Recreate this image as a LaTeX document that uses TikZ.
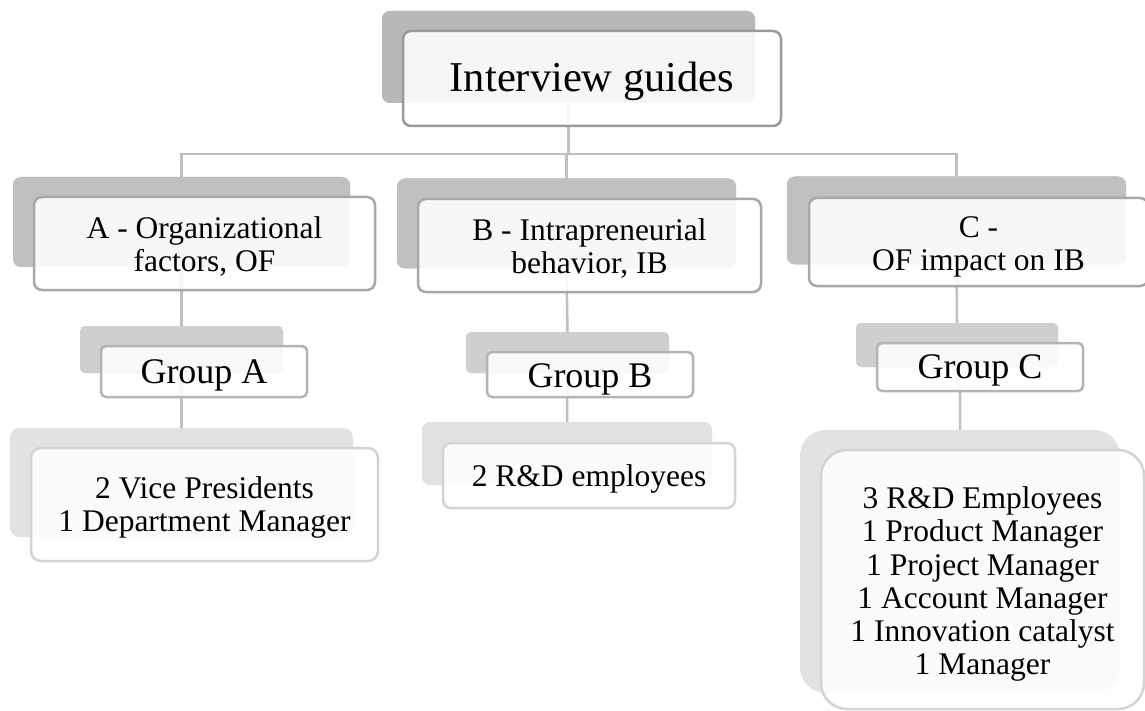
\documentclass[tikz,border=0pt]{standalone}
\usepackage{fontspec}
\setmainfont{Liberation Serif}
\definecolor{shT}{HTML}{B8B8B8}
\definecolor{shL}{HTML}{C0C0C0}
\definecolor{shG}{HTML}{CFCFCF}
\definecolor{shB}{HTML}{E2E2E2}
\definecolor{bdT}{HTML}{9A9A9A}
\definecolor{bdL}{HTML}{A8A8A8}
\definecolor{bdG}{HTML}{B4B4B4}
\definecolor{bdB}{HTML}{D4D4D4}
\definecolor{lineC}{HTML}{C0C0C0}
\newcommand{\up}[1]{\rule{0pt}{#1pt}}
\tikzset{
  shadowbox/.style={rectangle, rounded corners=8pt, draw=none, inner sep=0pt, outer sep=0pt},
  frontbox/.style={rectangle, rounded corners=8pt, fill=white, fill opacity=0.88, text opacity=1,
                   line width=2.5pt, inner sep=0pt, align=center, text=black},
  conn/.style={draw=lineC, line width=2.5pt},
  fTop/.style={font=\fontsize{42.5}{46}\selectfont},
  fLev/.style={font=\fontsize{31.5}{33}\selectfont},
  fGrp/.style={font=\fontsize{36}{38}\selectfont},
  fBot/.style={font=\fontsize{31.5}{33.2}\selectfont}
}
\begin{document}
\begin{tikzpicture}[x=1pt,y=-1pt]
\useasboundingbox (0,0) rectangle (1145,711);
\clip (0,0) rectangle (1145,711);

% shadow (main) nodes
\node[shadowbox, fill=shT, minimum width=373pt, minimum height=92pt] (T) at (568.5,57) {};
\node[shadowbox, fill=shL, minimum width=337pt, minimum height=90pt] (A) at (181.5,222) {};
\node[shadowbox, fill=shL, minimum width=339pt, minimum height=90pt] (B) at (566.5,223.5) {};
\node[shadowbox, fill=shL, minimum width=339pt, minimum height=88pt] (C) at (956.5,220.5) {};
\node[shadowbox, fill=shG, rounded corners=5pt, minimum width=203pt, minimum height=47pt] (GA) at (181.5,349.5) {};
\node[shadowbox, fill=shG, rounded corners=5pt, minimum width=203pt, minimum height=41pt] (GB) at (567.5,352.5) {};
\node[shadowbox, fill=shG, rounded corners=5pt, minimum width=202pt, minimum height=44pt] (GC) at (957,345) {};
\node[shadowbox, fill=shB, rounded corners=10pt, minimum width=343pt, minimum height=109pt] (LA) at (181.5,482.5) {};
\node[shadowbox, fill=shB, rounded corners=8pt, minimum width=290pt, minimum height=63pt] (LB) at (567,453.5) {};
\node[shadowbox, fill=shB, rounded corners=26pt, minimum width=320pt, minimum height=263pt] (LC) at (960,561.5) {};

% connectors
\path (T.south) ++(0,51) coordinate (bus);
\draw[conn] (T.south) -- (bus);
\draw[conn] (bus) -| (A.north);
\draw[conn] (bus) -| (B.north);
\draw[conn] (bus) -| (C.north);
\draw[conn] (A.south) -- (GA.north);
\draw[conn] (B.south) -- (GB.north);
\draw[conn] (C.south) -- (GC.north);
\draw[conn] (GA.south) -- (LA.north);
\draw[conn] (GB.south) -- (LB.north);
\draw[conn] (GC.south) -- ++(0,17) -- ++(3,3) |- (LC.north);

% shadows drawn again over the connector ends
\fill[shT, rounded corners=8pt] (T.south west) rectangle (T.north east);
\fill[shL, rounded corners=8pt] (A.south west) rectangle (A.north east);
\fill[shL, rounded corners=8pt] (B.south west) rectangle (B.north east);
\fill[shL, rounded corners=8pt] (C.south west) rectangle (C.north east);
\fill[shG, rounded corners=5pt] (GA.south west) rectangle (GA.north east);
\fill[shG, rounded corners=5pt] (GB.south west) rectangle (GB.north east);
\fill[shG, rounded corners=5pt] (GC.south west) rectangle (GC.north east);
\fill[shB, rounded corners=10pt] (LA.south west) rectangle (LA.north east);
\fill[shB, rounded corners=8pt] (LB.south west) rectangle (LB.north east);
\fill[shB, rounded corners=26pt] (LC.south west) rectangle (LC.north east);

% front boxes with text
\node[frontbox, draw=bdT, fTop, minimum width=378pt, minimum height=95pt, text height=29pt, text depth=2pt] (Tf) at (592,78.5) {Interview guides};
\node[frontbox, draw=bdL, fLev, minimum width=341pt, minimum height=93pt] (Af) at (204.5,243.5) {\up{28}A - Organizational\\factors, OF};
\node[frontbox, draw=bdL, fLev, minimum width=343pt, minimum height=93pt] (Bf) at (589.5,245.5) {\up{28}B - Intrapreneurial\\behavior, IB};
\node[frontbox, draw=bdL, fLev, minimum width=339pt, minimum height=88pt] (Cf) at (978.5,242) {\up{31}C -\\OF impact on IB};
\node[frontbox, draw=bdG, fGrp, rounded corners=5pt, minimum width=206pt, minimum height=51pt, text height=25pt, text depth=2pt] (GAf) at (204,371.5) {Group A};
\node[frontbox, draw=bdG, fGrp, rounded corners=5pt, minimum width=206pt, minimum height=45pt, text height=26pt, text depth=1pt] (GBf) at (590,374.5) {Group B};
\node[frontbox, draw=bdG, fGrp, rounded corners=5pt, minimum width=206pt, minimum height=48pt, text height=24pt, text depth=2pt] (GCf) at (980,367) {Group C};
\node[frontbox, draw=bdB, fBot, rounded corners=10pt, minimum width=347pt, minimum height=113pt] (LAf) at (204.5,504.5) {\up{28}2 Vice Presidents\\1 Department Manager};
\node[frontbox, draw=bdB, fBot, rounded corners=8pt, minimum width=292pt, minimum height=65pt, text height=23pt, text depth=2pt] (LBf) at (589,475.5) {2 R\&D employees};
\node[frontbox, draw=bdB, fBot, rounded corners=26pt, minimum width=323pt, minimum height=259pt] (LCf) at (982.5,579.5) {\up{31}3 R\&D Employees\\1 Product Manager\\1 Project Manager\\1 Account Manager\\1 Innovation catalyst\\1 Manager};
\end{tikzpicture}
\end{document}
